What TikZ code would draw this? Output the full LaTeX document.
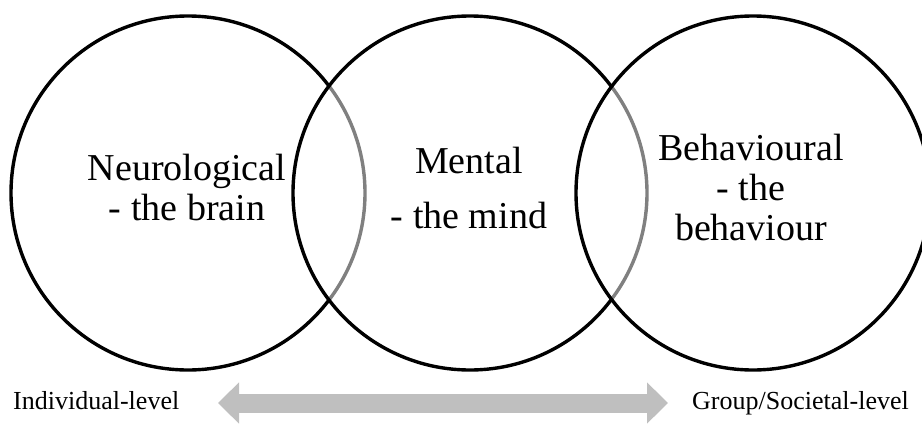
\documentclass[tikz,border=0pt]{standalone}
\usepackage{fontspec}
\setmainfont{Liberation Serif}
\usetikzlibrary{arrows.meta}

\begin{document}
\begin{tikzpicture}[x=1pt, y=-1pt,
    bubble/.style={circle, draw, line width=3.4pt, fill=white, fill opacity=.5, minimum size=354pt, inner sep=0pt},
    bigtext/.style={font=\fontsize{38}{40}\selectfont, align=center, anchor=base},
    leveltext/.style={font=\fontsize{26}{30}\selectfont, anchor=base west, inner sep=0pt},
    levelarrow/.style={gray!50, line width=19pt, {Triangle[length=21pt, width=40pt]}-{Triangle[length=21pt, width=40pt]}}]
    \useasboundingbox (0,0) rectangle (922,426);
    \clip (0,0) rectangle (922,426);

    % the three levels, later circles wash out the arc below them
    \foreach \name/\x in {neuro/188, mental/470, behav/753}
        \node[bubble] (\name) at (\x,193) {};

    % base of a multi line node sits on its last line
    \node[bigtext] (neurotext) at (187,220) {Neurological\\- the brain};
    \node[bigtext] (mentaltext) at (469,228) {Mental\\[15pt]- the mind};
    \node[bigtext] (behavtext) at (751,240) {Behavioural\\- the\\behaviour};

    % scale underneath
    \node[leveltext] (indiv) at (13,409) {Individual-level};
    \node[leveltext] (group) at (692,409) {Group/Societal-level};
    \coordinate (arrowL) at (218,403);
    \coordinate (arrowR) at (668,403);
    \draw[levelarrow] (arrowL) -- (arrowR);
\end{tikzpicture}
\end{document}
